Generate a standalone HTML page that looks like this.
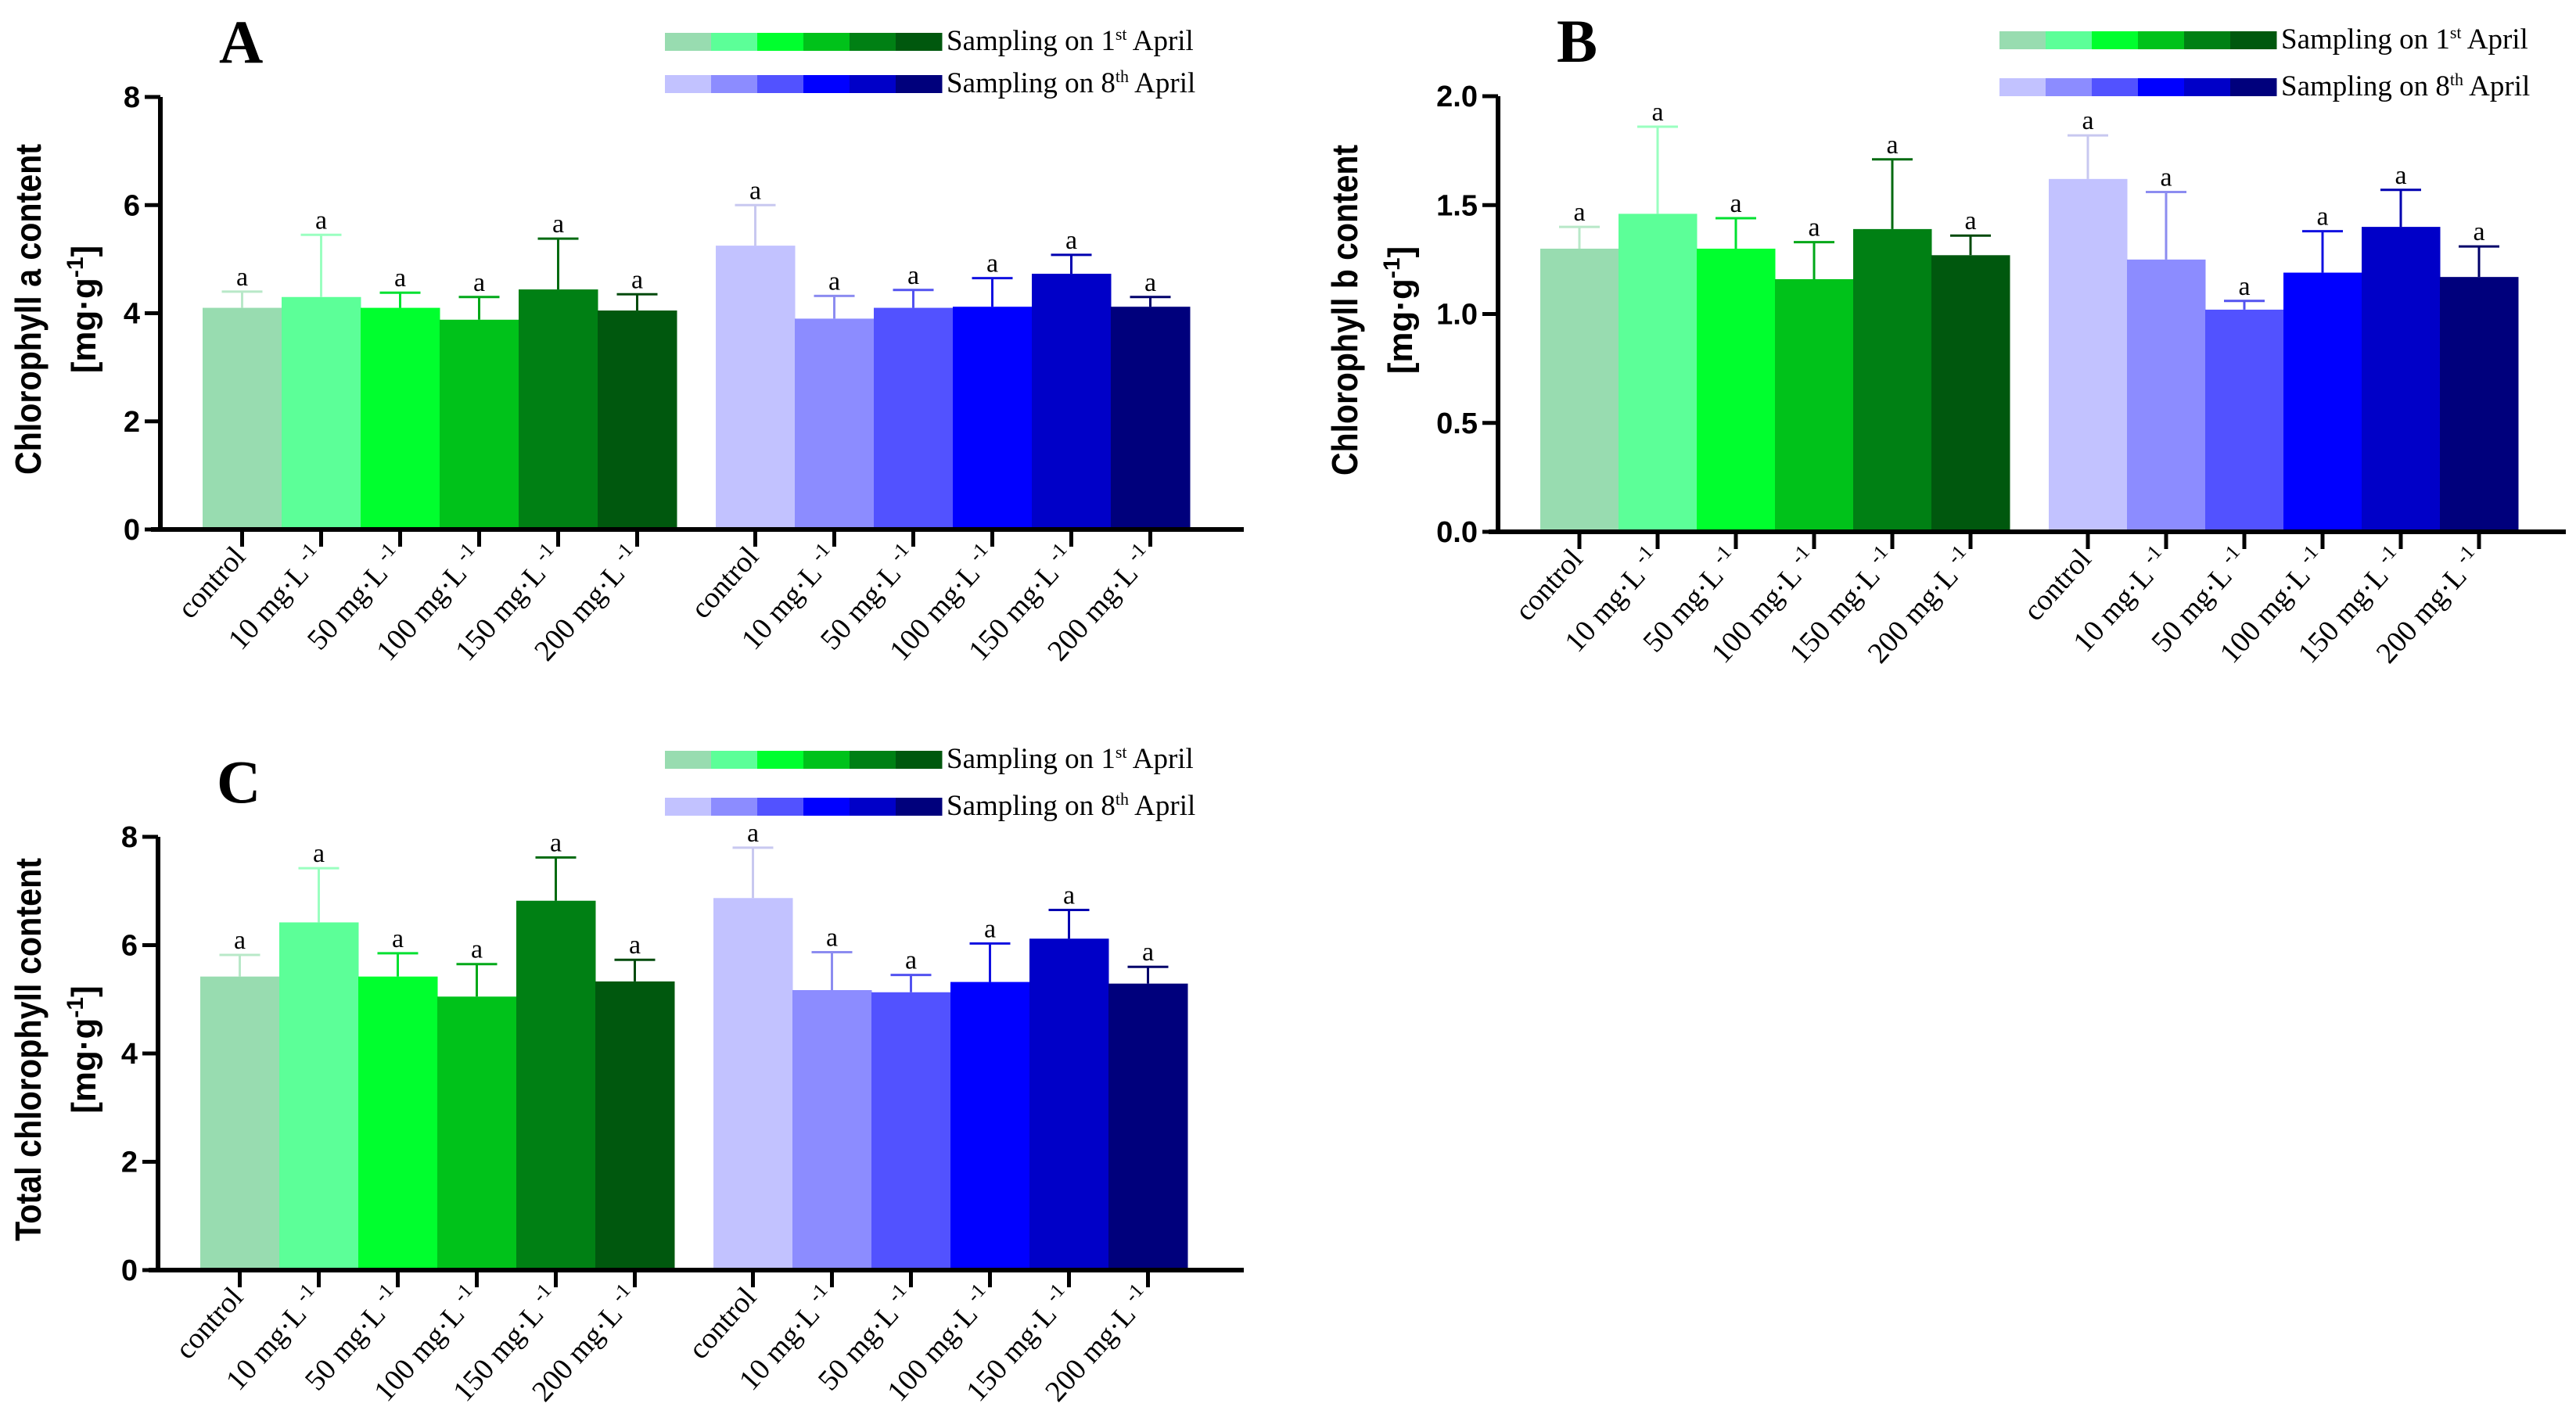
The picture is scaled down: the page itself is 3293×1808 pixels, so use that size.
<!DOCTYPE html>
<html><head><meta charset="utf-8"><style>
html,body{margin:0;padding:0;background:#fff;width:3293px;height:1808px;overflow:hidden}
svg{display:block}
</style></head><body>
<svg id="fig" width="3293" height="1808" viewBox="0 0 3293 1808" xmlns="http://www.w3.org/2000/svg"></svg>
<script>
const categories = ["control","10","50","100","150","200"];
const greenColors = ["#98dcb0","#5cff98","#00ff2e","#00c21a","#008014","#00580e"];
const blueColors = ["#c2c2ff","#8c8cff","#5252ff","#0000ff","#0000c8","#00007c"];
const errGreen = ["#b8e8c8","#9affc0","#00e030","#00a818","#006a10","#004a0c"];
const errBlue = ["#c8c8f0","#8c8cf0","#5252f0","#1010e0","#0000b0","#00006a"];

const aDay1 = [4.10,4.30,4.10,3.88,4.44,4.05];
const aDay1Top = [4.40,5.45,4.38,4.30,5.38,4.35];
const aDay8 = [5.25,3.90,4.10,4.12,4.73,4.12];
const aDay8Top = [6.00,4.32,4.43,4.65,5.08,4.30];

const bDay1 = [1.30,1.46,1.30,1.16,1.39,1.27];
const bDay1Top = [1.40,1.86,1.44,1.33,1.71,1.36];
const bDay8 = [1.62,1.25,1.02,1.19,1.40,1.17];
const bDay8Top = [1.82,1.56,1.06,1.38,1.57,1.31];

const cDay1 = [5.42,6.42,5.42,5.05,6.82,5.33];
const cDay1Top = [5.82,7.42,5.85,5.65,7.62,5.73];
const cDay8 = [6.87,5.17,5.13,5.32,6.12,5.29];
const cDay8Top = [7.80,5.87,5.45,6.03,6.65,5.60];

const aTicks = ["0","2","4","6","8"];
const bTicks = ["0.0","0.5","1.0","1.5","2.0"];
const cTicks = ["0","2","4","6","8"];

const NS = "http://www.w3.org/2000/svg";
const svg = document.getElementById("fig");
function mk(tag, attrs, parent){
  const e = document.createElementNS(NS, tag);
  for (const k in attrs) e.setAttribute(k, attrs[k]);
  (parent||svg).appendChild(e);
  return e;
}

function panel(cfg){
  const g = mk("g", {});
  
  
  const x0 = cfg.axisX, y0 = cfg.y0, yTop = cfg.yTop;
  const ymax = cfg.ymax;
  const yScale = v => y0 - (v / ymax) * (y0 - yTop);
  const barW = cfg.barW || 101;
  const g1Start = x0 + 54, g2Start = x0 + 54 + 6*barW + 50;
  const xCenter = (grp, i) => (grp === 0 ? g1Start : g2Start) + i*barW + barW/2;

  const L = mk("text", {x: x0+75, y: yTop-44, "font-family":"Liberation Serif, serif", "font-weight":"bold", "font-size":78, fill:"#000"}, g);
  L.textContent = cfg.letter;
  
  

  const lg = mk("g", {}, g);
  
  
  const rows = [[greenColors, cfg.legY1, "st", "1"], [blueColors, cfg.legY2, "th", "8"]];
  rows.forEach((r, ri) => {
    const sw = 59;
    r[0].forEach((c, i) => {
      const s = mk("rect", {x: cfg.legX + i*sw, y: r[1], width: sw+0.5, height: 23, fill: c}, lg);
      
      
    });
    const t = mk("text", {x: cfg.legX + 6*sw + 6, y: r[1]+22, "font-family":"Liberation Serif, serif", "font-size":37, fill:"#000"}, lg);
    
    
    const a = mk("tspan", {}, t); a.textContent = "Sampling on " + r[3];
    const b = mk("tspan", {dy: -13, "font-size": 22}, t); b.textContent = r[2];
    const c = mk("tspan", {dy: 13}, t); c.textContent = " April";
  });

  [[cfg.d1, cfg.d1t, greenColors, errGreen], [cfg.d8, cfg.d8t, blueColors, errBlue]].forEach((set, grp) => {
    set[0].forEach((v, i) => {
      const cx = xCenter(grp, i);
      const r = mk("rect", {x: cx - barW/2, y: yScale(v), width: barW + 0.5, height: y0 - yScale(v), fill: set[2][i]}, g);
      
      
      const top = yScale(set[1][i]);
      const e = mk("path", {d: `M${cx},${yScale(v)}V${top}M${cx-26},${top}H${cx+26}`, stroke: set[3][i], "stroke-width": 3, fill: "none"}, g);
      
      
      const lab = mk("text", {x: cx, y: top - 8, "text-anchor": "middle", "font-family":"Liberation Serif, serif", "font-size":34, fill:"#000"}, g);
      lab.textContent = "a";
      
      
    });
  });

  const ax = mk("path", {d:`M${x0},${yTop}V${y0}M${x0-12},${y0}H${cfg.axisEnd}`, stroke:"#000", "stroke-width":6, fill:"none"}, g);
  
  
  cfg.ticks.forEach((t, i) => {
    const v = ymax * i / (cfg.ticks.length - 1);
    const y = yScale(v);
    mk("line", {x1: x0-20, x2: x0, y1: y, y2: y, stroke:"#000", "stroke-width":5}, g);
    const tl = mk("text", {x: x0-26, y: y+13, "text-anchor":"end", "font-family":"Liberation Sans, sans-serif", "font-weight":"bold", "font-size":38, fill:"#000"}, g);
    tl.textContent = t;
    
    
  });
  for (let grp = 0; grp < 2; grp++) {
    categories.forEach((c, i) => {
      const cx = xCenter(grp, i);
      mk("line", {x1: cx, x2: cx, y1: y0, y2: y0+22, stroke:"#000", "stroke-width":5}, g);
      const tx = mk("text", {transform:`translate(${cx+6},${y0+36}) rotate(-48)`, "text-anchor":"end", "font-family":"Liberation Serif, serif", "font-size":38, fill:"#000"}, g);
      
      
      if (c === "control") { tx.textContent = "control"; }
      else {
        const a = mk("tspan", {}, tx); a.textContent = c + " mg·L ";
        const b = mk("tspan", {dy:-14, "font-size":26}, tx); b.textContent = "-1";
      }
    });
  }

  const cy = (y0 + yTop)/2 - 5;
  const t1 = mk("text", {transform:`translate(${cfg.titleX},${cy}) rotate(-90)`, "text-anchor":"middle", "font-family":"Liberation Sans, sans-serif", "font-weight":"bold", "font-size":46, fill:"#000", textLength: cfg.titleLen, lengthAdjust:"spacingAndGlyphs"}, g);
  t1.textContent = cfg.title;
  
  
  const t2 = mk("text", {transform:`translate(${cfg.titleX+70},${cy}) rotate(-90)`, "text-anchor":"middle", "font-family":"Liberation Sans, sans-serif", "font-weight":"bold", "font-size":44, fill:"#000"}, g);
  
  
  const u1 = mk("tspan", {}, t2); u1.textContent = "[mg·g";
  const u2 = mk("tspan", {dy:-16, "font-size":30}, t2); u2.textContent = "-1";
  const u3 = mk("tspan", {dy:16}, t2); u3.textContent = "]";
}

panel({id:"chlorophyll-a", letter:"A", axisX:205, y0:677, yTop:124, ymax:8, axisEnd:1590, ticks:aTicks,
  d1:aDay1, d1t:aDay1Top, d8:aDay8, d8t:aDay8Top, legX:850, legY1:42, legY2:96,
  titleX:52, title:"Chlorophyll a content", titleLen:423});
panel({id:"chlorophyll-b", letter:"B", axisX:1915, y0:680, yTop:123, ymax:2, axisEnd:3280, ticks:bTicks, barW:100,
  d1:bDay1, d1t:bDay1Top, d8:bDay8, d8t:bDay8Top, legX:2556, legY1:40, legY2:100,
  titleX:1735, title:"Chlorophyll b content", titleLen:423});
panel({id:"total-chlorophyll", letter:"C", axisX:202, y0:1624, yTop:1070, ymax:8, axisEnd:1590, ticks:cTicks,
  d1:cDay1, d1t:cDay1Top, d8:cDay8, d8t:cDay8Top, legX:850, legY1:960, legY2:1020,
  titleX:52, title:"Total chlorophyll content", titleLen:490});
</script>
</body></html>
